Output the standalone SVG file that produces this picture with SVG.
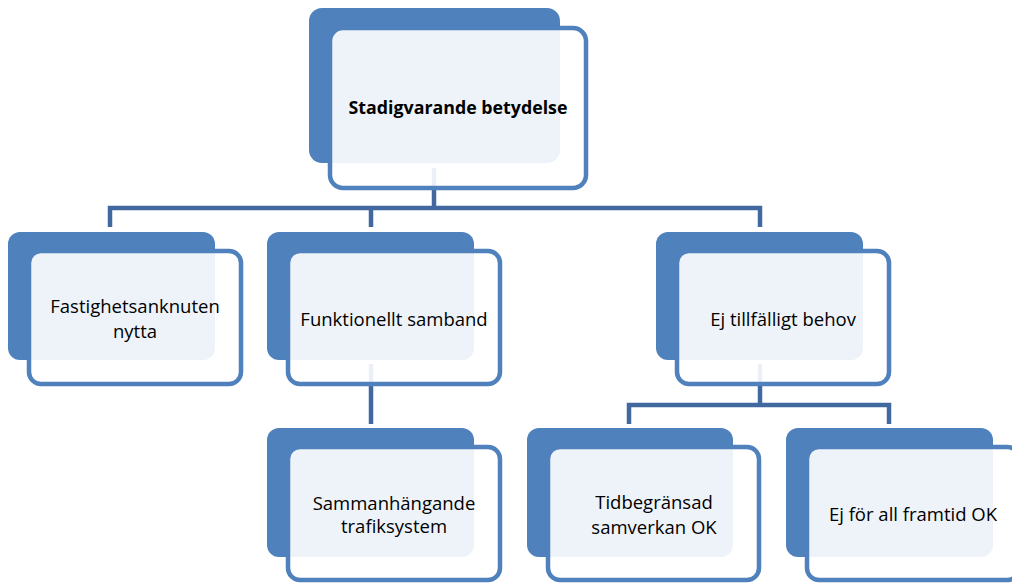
<svg xmlns="http://www.w3.org/2000/svg" width="1012" height="583" viewBox="0 0 1012 583">
<style>
.back{fill:#4F81BD}
.front{fill:#FFFFFF;fill-opacity:0.9;stroke:#4F81BD;stroke-width:4.5}
.conn{fill:none;stroke:#4169A0;stroke-width:4.5}
.t{font-family:"Open Sans","Liberation Sans",sans-serif;font-size:18.5px;fill:#000;text-anchor:middle}
.b{font-weight:bold;font-size:17.8px}
</style>
<rect width="1012" height="583" fill="#FFFFFF"/>
<g id="connectors">
<path class="conn" d="M434,168 V208 M110,227 V208 H760 V227 M371,208 V227"/>
<path class="conn" d="M760,364 V405 M629,424 V405 H889 V424 M371,364 V424"/>
</g>
<g id="node-top">
<rect class="back" x="309" y="8" width="251" height="155" rx="13"/>
<rect class="front" x="330" y="28" width="256" height="160" rx="13"/>
<text class="t b" x="458" y="114">Stadigvarande betydelse</text>
</g>
<g id="node-fastighet">
<rect class="back" x="8" y="232" width="207" height="128" rx="12"/>
<rect class="front" x="29" y="251" width="212" height="133" rx="12"/>
<text class="t" x="135" y="313">Fastighetsanknuten</text>
<text class="t" x="135" y="338">nytta</text>
</g>
<g id="node-funktionellt">
<rect class="back" x="267" y="232" width="207" height="128" rx="12"/>
<rect class="front" x="288" y="251" width="212" height="133" rx="12"/>
<text class="t" x="394" y="326">Funktionellt samband</text>
</g>
<g id="node-ej-tillfalligt">
<rect class="back" x="656" y="232" width="207" height="128" rx="12"/>
<rect class="front" x="677" y="251" width="212" height="133" rx="12"/>
<text class="t" x="783" y="326">Ej tillfälligt behov</text>
</g>
<g id="node-sammanhangande">
<rect class="back" x="267" y="428" width="207" height="129" rx="12"/>
<rect class="front" x="288" y="447" width="212" height="133" rx="12"/>
<text class="t" x="394" y="510">Sammanhängande</text>
<text class="t" x="394" y="533">trafiksystem</text>
</g>
<g id="node-tidbegransad">
<rect class="back" x="527" y="428" width="206" height="129" rx="12"/>
<rect class="front" x="548" y="447" width="211" height="133" rx="12"/>
<text class="t" x="654" y="509">Tidbegränsad</text>
<text class="t" x="654" y="534">samverkan OK</text>
</g>
<g id="node-ej-for-all">
<rect class="back" x="786" y="428" width="207" height="129" rx="12"/>
<rect class="front" x="807" y="447" width="212" height="133" rx="12"/>
<text class="t" x="913" y="521">Ej för all framtid OK</text>
</g>
</svg>
